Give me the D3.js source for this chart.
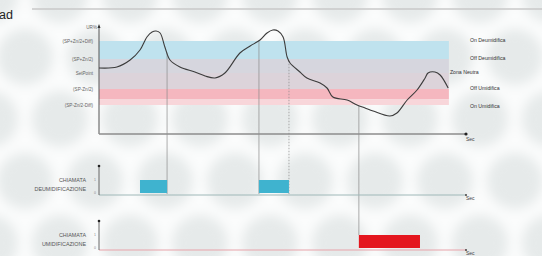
<!DOCTYPE html>
<html>
<head>
    <title>Umidificazione / Deumidificazione</title>
    <script src="https://d3js.org/d3.v7.min.js"></script>
    <style>
        body { margin: 0; background: #fff; font-family: "Liberation Sans", Arial, sans-serif; }
        svg text { fill: #444; }
    </style>
</head>
<body>
<div id="chart"></div>
<script>
    // soglie (UR%) dall'alto verso il basso
    const thresholds = [66.5, 57.5, 50.5, 42.5, 34.5];
    const leftLabels = ["(SP+Zn/2+Diff)", "(SP+Zn/2)", "SetPoint", "(SP-Zn/2)", "(SP-Zn/2-Diff)"];
    const rightLabels = ["On Deumidifica", "Off Deumidifica", "Zona Neutra", "Off Umidifica", "On Umidifica"];

    // andamento umidita nel tempo
    const times = [0, 4.9, 8.5, 11.2, 13.1, 14.5, 15.6, 16.7, 18, 19.4, 22.1, 26.2, 29, 31.7, 34.4, 38.5, 41.3, 44,
        45.9, 47.5, 48.9, 50.3, 51.4, 52.2, 54.9, 56.8, 60.4, 62.3, 63.9, 67.8, 70.5, 72.7, 74.9, 79.5, 81.4,
        84.2, 86.9, 89.1, 89.9, 91.8, 93.2, 95.4];
    const humidity = [53, 53.5, 57, 62, 68.5, 71, 71.5, 70.5, 63.5, 57, 53.5, 51, 49, 48, 50.5, 60.5, 64, 67,
        70.5, 72, 71.5, 68.5, 58.5, 55.5, 51, 48, 45.5, 43, 38.5, 37, 34.5, 33, 31.5, 29, 30.5,
        37, 42, 48, 50.5, 51, 49.5, 43];

    // chiamate [inizio, fine] in secondi
    const deumCalls = [[11.2, 18.6], [43.7, 51.9]];
    const umidCalls = [[71, 87.7]];
    const markers = [18.6, 43.7, 51.9, 71];
    const dashedMarkers = [51.9];

    const width = 542, height = 256;
    const svg = d3.select("#chart").append("svg")
        .attr("width", width).attr("height", height);

    // sfondo a bolle
    const defs = svg.append("defs");
    defs.append("filter").attr("id", "blur").append("feGaussianBlur").attr("stdDeviation", 6);
    svg.append("rect").attr("width", width).attr("height", height).attr("fill", "#fbfcfc");
    const bg = svg.append("g").attr("filter", "url(#blur)");
    for (let r = 0; r < 5; r++) {
        for (let c = 0; c < 9; c++) {
            bg.append("circle")
                .attr("cx", c * 70 + (r % 2) * 35 - 10)
                .attr("cy", r * 62 - 5)
                .attr("r", 28)
                .attr("fill", "#e6eaea");
        }
    }

    svg.append("text").attr("x", -1).attr("y", 19)
        .style("font-size", "12.5px").style("fill", "#222").text("ad");
    svg.append("line").attr("x1", 32).attr("x2", 542).attr("y1", 9).attr("y2", 9)
        .attr("stroke", "#c8c8c8").attr("stroke-width", 1.5);

    const x = d3.scaleLinear().domain([0, 100]).range([99, 465]);
    const y = d3.scaleLinear().domain([20, 74]).range([134, 26]);
    const yDeum = d3.scaleLinear().domain([0, 1]).range([194, 180]);
    const yUmid = d3.scaleLinear().domain([0, 1]).range([249, 235]);

    const bandEnd = x(95.6);

    // fasce
    svg.append("rect").attr("x", x(0)).attr("width", bandEnd - x(0))
        .attr("y", y(thresholds[0])).attr("height", y(thresholds[1]) - y(thresholds[0]))
        .attr("fill", "#bfe2ee");
    svg.append("rect").attr("x", x(0)).attr("width", bandEnd - x(0))
        .attr("y", y(thresholds[1])).attr("height", y(thresholds[2]) - y(thresholds[1]))
        .attr("fill", "#d6d6de");
    svg.append("rect").attr("x", x(0)).attr("width", bandEnd - x(0))
        .attr("y", y(thresholds[2])).attr("height", y(thresholds[3]) - y(thresholds[2]))
        .attr("fill", "#dcd3da");
    svg.append("rect").attr("x", x(0)).attr("width", bandEnd - x(0))
        .attr("y", y(thresholds[3])).attr("height", (y(thresholds[4]) - y(thresholds[3])) * 0.65)
        .attr("fill", "#f5b7bf");
    svg.append("rect").attr("x", x(0)).attr("width", bandEnd - x(0))
        .attr("y", y(thresholds[3]) + (y(thresholds[4]) - y(thresholds[3])) * 0.65)
        .attr("height", (y(thresholds[4]) - y(thresholds[3])) * 0.35)
        .attr("fill", "#f8d6da");

    // etichette soglie
    svg.append("g").selectAll("text").data(leftLabels).join("text")
        .attr("x", 93).attr("y", (d, i) => y(thresholds[i]) + 2)
        .attr("text-anchor", "end").style("font-size", "4.6px").style("fill", "#666")
        .text(d => d);
    svg.append("g").selectAll("text").data(rightLabels).join("text")
        .attr("x", (d, i) => i === 2 ? bandEnd + 1 : 470)
        .attr("y", (d, i) => y(thresholds[i]) + (i === 4 ? 3 : 1))
        .style("font-size", "5.2px").style("fill", "#333")
        .text(d => d);
    svg.append("text").attr("x", 97).attr("y", 29).attr("text-anchor", "end")
        .style("font-size", "4.6px").style("fill", "#666").text("UR%");

    const pts = times.map((t, i) => [t, humidity[i]]);
    const valueAt = t => {
        const i = d3.bisector(d => d[0]).left(pts, t);
        const a = pts[Math.max(0, i - 1)], b = pts[Math.min(pts.length - 1, i)];
        if (b[0] === a[0]) return a[1];
        return a[1] + (b[1] - a[1]) * (t - a[0]) / (b[0] - a[0]);
    };

    // linee verticali
    svg.append("g").selectAll("line").data(markers).join("line")
        .attr("x1", d => x(d)).attr("x2", d => x(d))
        .attr("y1", d => y(valueAt(d)))
        .attr("y2", d => d >= 70 ? yUmid(1) : yDeum(0))
        .attr("stroke", "#8a8a8a").attr("stroke-width", 0.7)
        .attr("stroke-dasharray", d => dashedMarkers.includes(d) ? "1.5,1.5" : null);

    // assi principali
    const axisColor = "#555";
    svg.append("line").attr("x1", x(0)).attr("x2", x(0)).attr("y1", y(20)).attr("y2", 26)
        .attr("stroke", axisColor).attr("stroke-width", 1);
    svg.append("path").attr("d", `M${x(0) - 1.5},${28}L${x(0)},${24}L${x(0) + 1.5},${28}Z`).attr("fill", "#333");
    svg.append("line").attr("x1", x(0)).attr("x2", 466).attr("y1", y(20)).attr("y2", y(20))
        .attr("stroke", "#8c8c8c").attr("stroke-width", 1.6);
    svg.append("circle").attr("cx", 466).attr("cy", y(20)).attr("r", 1.6).attr("fill", "#222");
    svg.append("text").attr("x", 466).attr("y", 141).style("font-size", "5px").text("Sec");

    // curva umidita
    svg.append("path")
        .datum(pts)
        .attr("fill", "none")
        .attr("stroke", "#3c3c3c")
        .attr("stroke-width", 1.1)
        .attr("d", d3.line().x(d => x(d[0])).y(d => y(d[1])).curve(d3.curveCatmullRom));

    // sotto-grafici chiamate
    function subChart(scale, calls, barColor, baseColor, label) {
        const g = svg.append("g");
        g.append("line").attr("x1", x(0)).attr("x2", 466).attr("y1", scale(0) + 1).attr("y2", scale(0) + 1)
            .attr("stroke", baseColor).attr("stroke-width", 1);
        g.append("line").attr("x1", x(0)).attr("x2", x(0)).attr("y1", scale(0) + 1).attr("y2", scale(1) - 14)
            .attr("stroke", "#444").attr("stroke-width", 0.8);
        g.append("circle").attr("cx", x(0)).attr("cy", scale(1) - 14).attr("r", 1.3).attr("fill", "#222");
        g.append("text").attr("x", 96).attr("y", scale(1) + 1).attr("text-anchor", "end")
            .style("font-size", "3.5px").style("fill", "#888").text("1");
        g.append("text").attr("x", 96).attr("y", scale(0)).attr("text-anchor", "end")
            .style("font-size", "3.5px").style("fill", "#888").text("0");
        g.selectAll("rect").data(calls).join("rect")
            .attr("x", d => x(d[0])).attr("width", d => x(d[1]) - x(d[0]))
            .attr("y", scale(1)).attr("height", scale(0) - scale(1) - 1)
            .attr("fill", barColor);
        g.append("circle").attr("cx", 466).attr("cy", scale(0) + 1).attr("r", 1).attr("fill", "#444");
        g.append("text").attr("x", 466).attr("y", scale(0) + 6).style("font-size", "5px").text("Sec");
        g.selectAll("text.lab").data(label).join("text").attr("class", "lab")
            .attr("x", 86).attr("y", (d, i) => scale(1) + 2 + i * 9)
            .attr("text-anchor", "end").style("font-size", "5.4px").style("fill", "#555")
            .text(d => d);
    }
    subChart(yDeum, deumCalls, "#3fb3cf", "#9fb8b8", ["CHIAMATA", "DEUMIDIFICAZIONE"]);
    subChart(yUmid, umidCalls, "#e4161e", "#e8a3aa", ["CHIAMATA", "UMIDIFICAZIONE"]);
</script>
</body>
</html>
